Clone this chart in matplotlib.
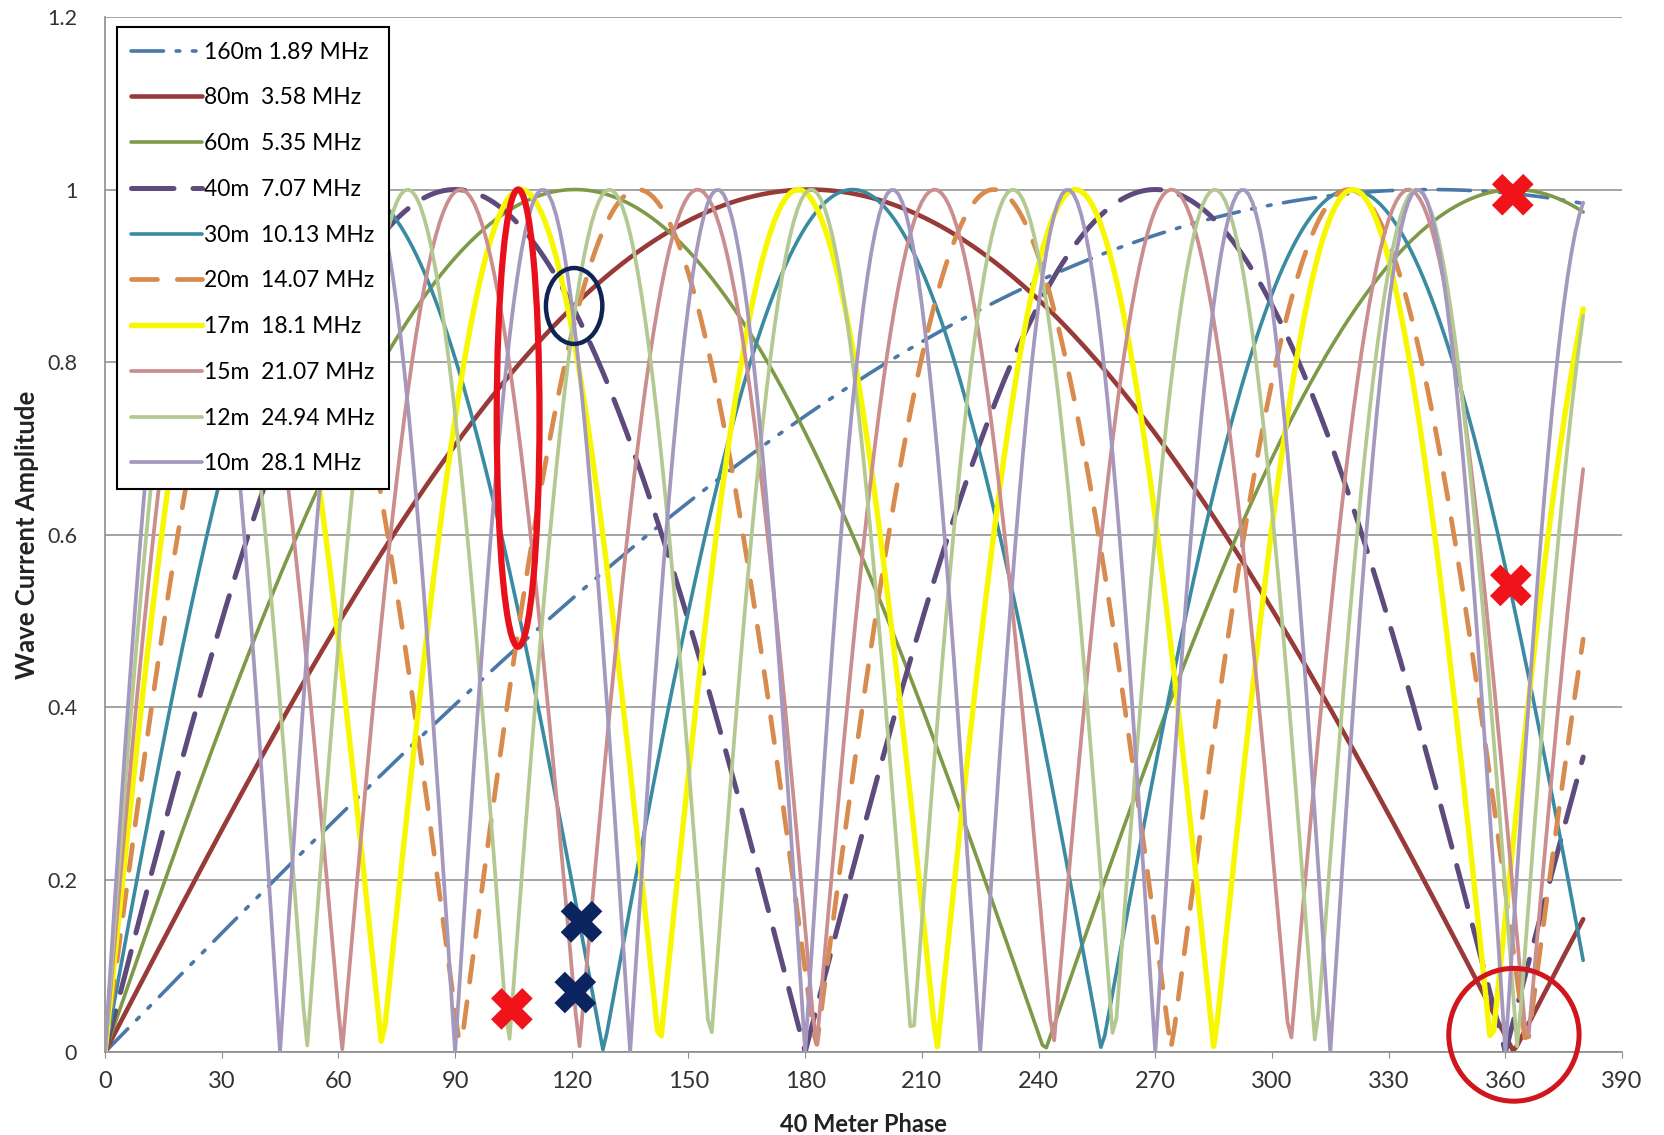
import numpy as np
import matplotlib.pyplot as plt
from matplotlib.patches import Ellipse

# bands, legend frequencies and the phase rate of each band relative to 40 m
bands = ['160m', '80m', '60m', '40m', '30m', '20m', '17m', '15m', '12m', '10m']
freqs = ['1.89', '3.58', '5.35', '7.07', '10.13', '14.07', '18.1', '21.07', '24.94', '28.1']
phase_ratio = [0.264, 0.497, 0.745, 1.0, 1.405, 1.97, 2.525, 2.954, 3.47, 4.0]

colors = ['#4A78A8', '#973A38', '#7E9A48', '#5E4A7C', '#3A8AA2',
          '#D88B4D', '#F7F700', '#CA8E8F', '#B4C992', '#A598BF']
widths = [2.6, 3.3, 2.6, 3.6, 2.6, 3.4, 3.9, 2.7, 2.7, 2.7]
dashes = [(9, 3.5, 1, 3.5, 1, 3.5), None, None, (8.5, 3.8), None, (5.5, 4.2), None, None, None, None]

# 40 m phase in degrees
phase = np.arange(0, 381, 1)

# marked points
red_x = [104.6, 361.9, 361.4]
red_y = [0.05, 0.994, 0.541]
navy_x = [122.5, 120.9]
navy_y = [0.151, 0.069]

plt.rcParams['font.family'] = ['Lato', 'DejaVu Sans']

fig = plt.figure(figsize=(16.64, 11.35), dpi=100)
ax = fig.add_axes([0.0631, 0.0731, 0.9117, 0.9119])

for i in range(len(bands)):
    amp = np.abs(np.sin(np.radians(phase * phase_ratio[i])))
    if i == 0:
        label = bands[i] + ' ' + freqs[i] + ' MHz'
    else:
        label = bands[i] + '  ' + freqs[i] + ' MHz'
    line, = ax.plot(phase, amp, color=colors[i], lw=widths[i], label=label,
                    solid_capstyle='round', dash_capstyle='round', zorder=2 + i * 0.1)
    if dashes[i] is not None:
        line.set_dashes(dashes[i])

# highlight shapes
ax.add_patch(Ellipse((106.2, 0.735), 11, 0.53, fill=False, ec='#E8101A', lw=4.5, zorder=5))
ax.add_patch(Ellipse((120.6, 0.865), 14.5, 0.088, fill=False, ec='#0F2454', lw=3.2, zorder=5))
ax.add_patch(Ellipse((362.2, 0.02), 33.5, 0.154, fill=False, ec='#D0161C', lw=3.6,
                     zorder=5, clip_on=False))

ax.scatter(red_x, red_y, marker='X', s=900, color='#F0141A', edgecolors='none', zorder=6)
ax.scatter(navy_x, navy_y, marker='X', s=900, color='#0C2561', edgecolors='none', zorder=6)

ax.set_xlim(0, 390)
ax.set_ylim(0, 1.2)
ax.set_xticks(np.arange(0, 391, 30))
ax.set_yticks([0, 0.2, 0.4, 0.6, 0.8, 1.0, 1.2])
ax.set_yticklabels(['0', '0.2', '0.4', '0.6', '0.8', '1', '1.2'])
ax.grid(axis='y', color='#8C8C8C', lw=1.1)
ax.set_axisbelow(True)
for s in ['top', 'right']:
    ax.spines[s].set_visible(False)
for s in ['left', 'bottom']:
    ax.spines[s].set_color('#8C8C8C')
    ax.spines[s].set_linewidth(1.2)
ax.tick_params(axis='both', colors='#8C8C8C', labelcolor='#333333', length=4)
ax.tick_params(axis='x', pad=10, labelsize=17)
ax.tick_params(axis='y', pad=20, length=0, labelsize=15.5)

ax.set_xlabel('40 Meter Phase', fontsize=17, fontweight='bold', color='#222222', labelpad=15)
ax.set_ylabel('Wave Current Amplitude', fontsize=18.5, fontweight='bold', color='#222222', labelpad=6)

leg = ax.legend(loc='upper left', bbox_to_anchor=(0.0077, 0.99), borderaxespad=0,
                fontsize=16.5, handlelength=3.1, handletextpad=0.1, labelspacing=1.08,
                borderpad=0.62, fancybox=False, framealpha=1)
leg.get_frame().set_edgecolor('black')
leg.get_frame().set_linewidth(1.5)
leg.set_zorder(10)

plt.savefig('out.png', dpi=100)
